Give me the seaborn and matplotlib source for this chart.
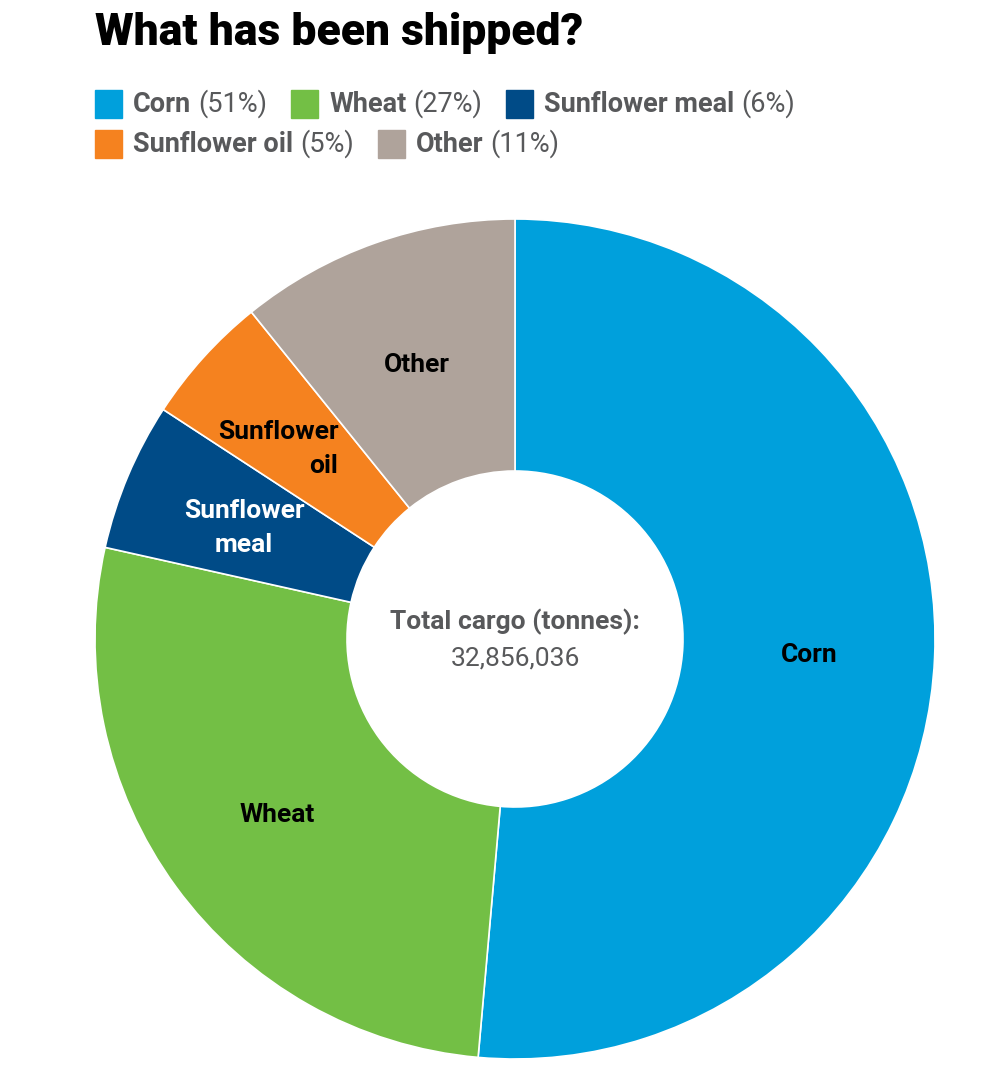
import numpy as np
import seaborn as sns
import matplotlib.pyplot as plt
from matplotlib.patches import Rectangle

sns.set_theme(style="white")
plt.rcParams['font.family'] = ['Roboto', 'DejaVu Sans']

# shares of total cargo (clockwise from 12 o'clock)
cargo = ['Corn', 'Wheat', 'Sunflower meal', 'Sunflower oil', 'Other']
share = [51.4, 27.1, 5.7, 5.0, 10.8]
legend_pct = ['51%', '27%', '6%', '5%', '11%']
wedge_labels = ['Corn', 'Wheat', 'Sunflower\nmeal', 'Sunflower\noil', 'Other']
colors = sns.color_palette(['#00a0dc', '#73bf45', '#004b87', '#f5821f', '#afa39b'])
total = '32,856,036'

W, H = 996, 1080
fig = plt.figure(figsize=(W / 100, H / 100), dpi=100)

# donut: center (515, 639) px, radius 420 px
cx, cy, R = 515, 639, 420
ax = fig.add_axes([(cx - R) / W, (H - cy - R) / H, 2 * R / W, 2 * R / H])
wedges, _ = ax.pie(share, colors=colors, startangle=90, counterclock=False,
                   radius=1, wedgeprops=dict(width=0.6, edgecolor='white', linewidth=1.2))
ax.set_xlim(-1, 1)
ax.set_ylim(-1, 1)
ax.set_aspect('equal')
ax.axis('off')

for w, lab in zip(wedges, wedge_labels):
    ang = np.deg2rad((w.theta1 + w.theta2) / 2)
    x, y = 0.70 * np.cos(ang), 0.70 * np.sin(ang) - 0.007
    col = 'white' if lab.endswith('meal') else 'black'
    ma = 'center'
    if lab.endswith('oil'):
        ma = 'right'
        x -= 0.045
        y -= 0.01
    ax.text(x, y, lab, ha='center', va='center', fontsize=19, fontweight='bold',
            color=col, multialignment=ma, linespacing=1.55)

ax.text(0, 0.042, 'Total cargo (tonnes):', ha='center', va='center', fontsize=19,
        fontweight='bold', color='#58595b')
ax.text(0, -0.046, total, ha='center', va='center', fontsize=19, color='#58595b')

# title
fig.text(95 / W, 1 - 33 / H, 'What has been shipped?', ha='left', va='center',
         fontsize=32, fontweight='heavy', color='black')

# legend, drawn by hand so the name is bold and the share is regular
fig.canvas.draw()
rend = fig.canvas.get_renderer()
rows = [(104, [0, 1, 2]), (144, [3, 4])]
sq = 27
for yrow, idx in rows:
    xpos = 95
    for i in idx:
        fig.patches.append(Rectangle((xpos / W, 1 - (yrow + sq / 2) / H), sq / W, sq / H,
                                     transform=fig.transFigure, color=colors[i]))
        t1 = fig.text((xpos + sq + 11) / W, 1 - yrow / H, cargo[i], ha='left', va='center',
                      fontsize=19.5, fontweight='bold', color='#58595b')
        bb = t1.get_window_extent(rend)
        t2 = fig.text((bb.x1 + 7) / W, 1 - yrow / H, '(' + legend_pct[i] + ')', ha='left',
                      va='center', fontsize=19.5, fontweight='normal', color='#58595b')
        bb2 = t2.get_window_extent(rend)
        xpos = bb2.x1 + 24

fig.savefig('out.png', dpi=100)
